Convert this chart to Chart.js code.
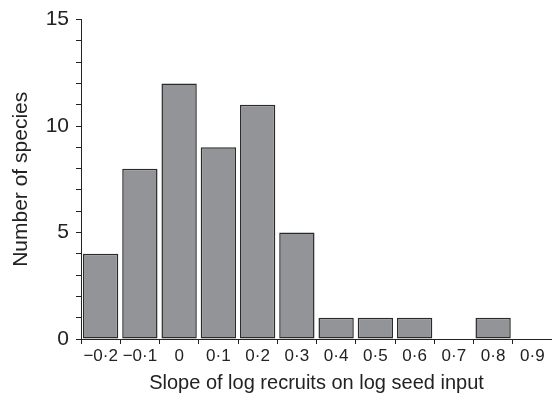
<!DOCTYPE html>
<html>
<head>
<meta charset="utf-8">
<script src="https://cdn.jsdelivr.net/npm/chart.js@4"></script>
<style>
  html, body { margin: 0; padding: 0; background: #fff; }
  #wrap { width: 552px; height: 400px; }
</style>
</head>
<body>
<div id="wrap"><canvas id="histChart"></canvas></div>
<script>
const slopeLabels = ["\u22120\u00b72", "\u22120\u00b71", "0", "0\u00b71", "0\u00b72", "0\u00b73", "0\u00b74", "0\u00b75", "0\u00b76", "0\u00b77", "0\u00b78", "0\u00b79"]
const speciesCounts = [4, 8, 12, 9, 11, 5, 1, 1, 1, 0, 1, 0]
const yMajorTicks = [0, 5, 10, 15]

const font = "'Liberation Sans', Arial, sans-serif"
const ink = "#222222"

new Chart(document.getElementById("histChart"), {
  type: "bar",
  data: {
    labels: slopeLabels,
    datasets: [
      {
        label: "Number of species",
        data: speciesCounts,
        backgroundColor: "#939498",
        borderColor: "#2b2b2b",
        borderWidth: 1.5,
        borderSkipped: false,
        categoryPercentage: 0.9,
        barPercentage: 1,
      },
    ],
  },
  options: {
    responsive: true,
    maintainAspectRatio: false,
    animation: false,
    layout: { padding: { top: 19, right: 0, left: 0, bottom: 0 } },
    plugins: {
      legend: { display: false },
      tooltip: { enabled: false },
    },
    scales: {
      x: {
        offset: true,
        afterFit: (scale) => { scale.height = 61 },
        border: { display: true, color: ink, width: 1 },
        grid: {
          offset: true,
          drawOnChartArea: false,
          drawTicks: true,
          tickLength: 5,
          color: ink,
        },
        ticks: {
          color: ink,
          padding: 2,
          maxRotation: 0,
          autoSkip: false,
          font: { family: font, size: 17 },
        },
        title: {
          display: true,
          text: "Slope of log recruits on log seed input",
          color: ink,
          padding: { top: 0, bottom: 5 },
          font: { family: font, size: 20 },
        },
      },
      y: {
        min: 0,
        max: 15,
        afterFit: (scale) => { scale.width = 81 },
        border: { display: true, color: ink, width: 1 },
        grid: {
          drawOnChartArea: false,
          drawTicks: true,
          tickLength: 5,
          color: ink,
        },
        ticks: {
          stepSize: 1,
          color: ink,
          padding: 7,
          autoSkip: false,
          font: { family: font, size: 21 },
          callback: (value) => (yMajorTicks.includes(value) ? value : ""),
        },
        title: {
          display: true,
          text: "Number of species",
          color: ink,
          padding: { top: 9, bottom: 0 },
          font: { family: font, size: 21 },
        },
      },
    },
  },
})
</script>
</body>
</html>
